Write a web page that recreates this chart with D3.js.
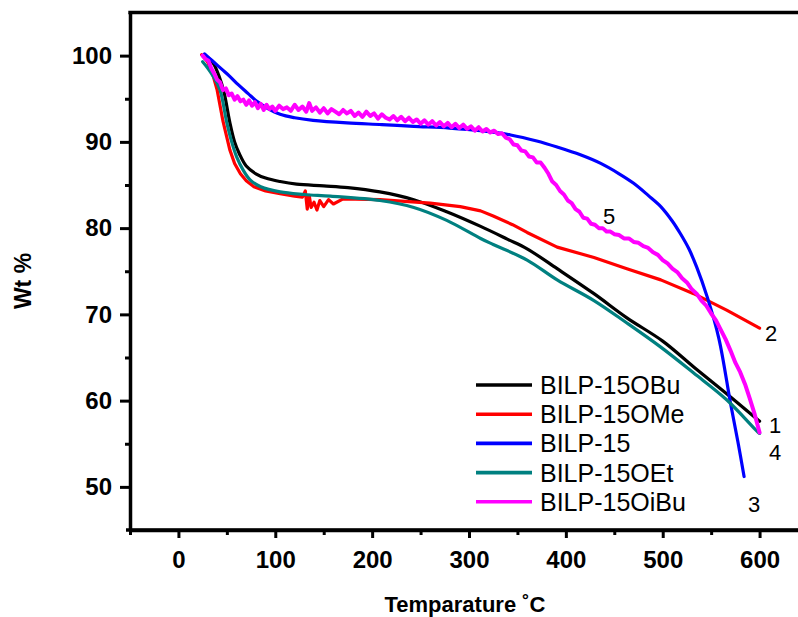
<!DOCTYPE html>
<html>
<head>
<meta charset="utf-8">
<script src="https://cdn.jsdelivr.net/npm/d3@7"></script>
<style>
  html, body { margin: 0; padding: 0; background: #fff; }
  svg { display: block; }
  text { font-family: Arial, "Liberation Sans", sans-serif; }
</style>
</head>
<body>
<svg id="chart" width="798" height="617"></svg>
<script>
// ---- data ----
const seriesNames = ["BILP-15OBu", "BILP-15OMe", "BILP-15", "BILP-15OEt", "BILP-15OiBu"];
const seriesColors = ["#000000", "#ff0000", "#0000ff", "#008080", "#ff00ff"];
const curveLabels = ["1", "2", "3", "4", "5"];

const buT = [25, 30, 36, 42, 47, 53, 58, 63, 70, 80, 90, 105, 122, 150, 175, 208, 243, 277, 312, 340, 360, 391, 429, 463, 500, 532, 566, 600];
const buW = [100, 99.8, 99.1, 97.6, 95.8, 92.3, 90.0, 88.6, 87.2, 86.3, 85.8, 85.4, 85.1, 84.9, 84.7, 84.2, 83.3, 81.9, 80.2, 78.7, 77.6, 75.3, 72.4, 69.6, 66.9, 63.9, 60.8, 57.6];

const meT = [24, 30, 35, 40, 46, 53, 58, 64, 70, 78, 90, 105, 120, 128, 131, 133, 135, 137, 140, 143, 146, 150, 155, 160, 170, 208, 260, 291, 312, 325, 345, 360, 391, 429, 463, 498, 532, 566, 600];
const meW = [100.1, 99.3, 98.0, 96.0, 92.4, 89.1, 87.5, 86.3, 85.5, 84.8, 84.3, 84.0, 83.7, 83.6, 84.3, 82.2, 83.8, 82.4, 83.0, 82.1, 83.2, 82.5, 83.3, 82.8, 83.4, 83.3, 82.9, 82.5, 82.0, 81.4, 80.4, 79.5, 77.8, 76.6, 75.3, 74.0, 72.4, 70.5, 68.4];

const b15T = [27, 35, 45, 53, 62, 72, 81, 92, 105, 120, 139, 174, 210, 243, 280, 312, 343, 370, 391, 415, 436, 455, 470, 485, 498, 510, 518, 527, 535, 546, 558, 570, 578, 584];
const b15W = [100.2, 99.4, 98.4, 97.6, 96.6, 95.6, 94.7, 93.9, 93.2, 92.8, 92.5, 92.2, 92.0, 91.8, 91.6, 91.3, 90.8, 90.1, 89.4, 88.5, 87.5, 86.3, 85.2, 83.8, 82.5, 80.8, 79.4, 77.6, 75.5, 72.0, 67.2, 59.7, 55.0, 51.2];

const etT = [25, 30, 36, 43, 50, 55, 60, 67, 74, 85, 105, 130, 157, 208, 243, 277, 312, 325, 360, 391, 429, 463, 498, 532, 566, 597, 600];
const etW = [99.3, 98.6, 97.6, 96.0, 92.2, 90.0, 88.3, 86.7, 85.6, 84.8, 84.2, 83.9, 83.7, 83.2, 82.4, 80.9, 78.8, 78.1, 76.3, 74.0, 71.6, 69.0, 66.2, 63.2, 60.1, 56.5, 56.2];

const ibT = [25, 28, 31, 34, 37, 40, 43, 46, 49, 52, 55, 58, 61, 64, 67, 70, 73, 76, 79, 82, 85, 88, 91, 94, 97, 100,
  104, 108, 112, 116, 120, 124, 128, 132, 135, 138, 142, 146, 150, 154, 158, 162, 166, 170, 174, 178, 182, 186, 190, 194, 198,
  202, 206, 210, 214, 218, 222, 226, 230, 234, 238, 242, 246, 250, 254, 258, 262, 266, 270, 274, 278, 282, 286, 290, 294, 298,
  302, 306, 310, 314, 318, 322, 326, 330, 334, 338, 342, 346, 350, 354, 358, 362, 366, 370, 374, 378, 382, 386, 390, 394, 398,
  402, 406, 410, 414, 418, 422, 426, 430, 434, 438, 442, 446, 450, 455, 460, 465, 470, 475, 480, 485, 490, 495, 500,
  505, 510, 515, 520, 525, 530, 535, 540, 545, 550, 555, 560, 565, 570, 575, 580, 585, 590, 595, 600];
const ibW = [100.0, 99.6, 99.4, 98.5, 97.9, 97.2, 96.9, 96.0, 96.2, 95.4, 95.6, 94.9, 95.3, 94.7, 94.9, 94.3, 94.8, 94.2, 94.6, 93.9, 94.4, 93.7, 94.3, 93.8, 94.1, 93.6,
  94.2, 93.8, 94.0, 93.6, 94.3, 93.7, 94.1, 93.5, 94.5, 93.6, 94.0, 93.4, 93.9, 93.3, 93.8, 93.5, 93.2, 93.7, 93.3, 93.6, 93.0, 93.4, 92.9, 93.5, 93.0,
  93.3, 92.7, 93.2, 92.8, 92.6, 93.0, 92.5, 92.9, 92.4, 92.8, 92.3, 92.6, 92.1, 92.5, 92.0, 92.4, 91.9, 92.3, 91.8, 92.2, 91.7, 92.1, 91.6, 92.0, 91.5,
  91.8, 91.3, 91.7, 91.2, 91.5, 91.1, 91.3, 90.9, 91.0, 90.5, 90.3, 89.7, 89.6, 89.0, 88.9, 88.3, 88.2, 87.6, 87.6, 87.0, 86.3, 85.4, 85.0, 84.3, 83.9,
  83.2, 82.9, 82.2, 81.9, 81.2, 81.1, 80.5, 80.4, 80.0, 80.0, 79.6, 79.6, 79.3, 79.2, 78.8, 78.8, 78.4, 78.3, 77.9, 77.7, 77.2, 76.9, 76.3,
  75.9, 75.3, 74.9, 74.2, 73.7, 72.9, 72.4, 71.6, 71.0, 70.1, 69.3, 68.2, 67.1, 65.8, 64.4, 63.3, 61.9, 60.2, 58.4, 56.3];

const xMajorTicks = [0, 100, 200, 300, 400, 500, 600];
const xMinorTicks = [-50, 50, 150, 250, 350, 450, 550];
const yMajorTicks = [50, 60, 70, 80, 90, 100];
const yMinorTicks = [55, 65, 75, 85, 95];
const xTitle = "Temparature \u02DAC";
const yTitle = "Wt %";

// ---- build ----
const seriesT = [buT, meT, b15T, etT, ibT];
const seriesW = [buW, meW, b15W, etW, ibW];

const svg = d3.select("#chart");
const x = d3.scaleLinear().domain([-50, 650]).range([130, 808]);
const y = d3.scaleLinear().domain([45, 105]).range([530, 12.5]);

const plot = svg.append("g");

const line = d3.line().x(d => x(d[0])).y(d => y(d[1]));

seriesNames.forEach((name, i) => {
  const pts = seriesT[i].map((t, j) => [t, seriesW[i][j]]);
  const curve = (i === 4 || i === 1) ? d3.curveLinear : d3.curveCatmullRom.alpha(0.5);
  plot.append("path")
    .datum(pts)
    .attr("fill", "none")
    .attr("stroke", seriesColors[i])
    .attr("stroke-width", i === 4 ? 4 : 3.2)
    .attr("stroke-linejoin", "round")
    .attr("stroke-linecap", "round")
    .attr("d", line.curve(curve));
});

// axes
const fontSize = 24;
const xAxis = svg.append("g").attr("transform", `translate(0,${y(45)})`)
  .call(d3.axisBottom(x).tickValues(xMajorTicks).tickSize(8).tickPadding(13).tickSizeOuter(0).tickFormat(d3.format("d")));
const xMinor = svg.append("g").attr("transform", `translate(0,${y(45)})`)
  .call(d3.axisBottom(x).tickValues(xMinorTicks).tickSize(5).tickSizeOuter(0).tickFormat(""));
const yAxis = svg.append("g").attr("transform", `translate(${x(-50)},0)`)
  .call(d3.axisLeft(y).tickValues(yMajorTicks).tickSize(10).tickPadding(8).tickSizeOuter(0).tickFormat(d3.format("d")));
const yMinor = svg.append("g").attr("transform", `translate(${x(-50)},0)`)
  .call(d3.axisLeft(y).tickValues(yMinorTicks).tickSize(5).tickSizeOuter(0).tickFormat(""));

[xAxis, xMinor, yAxis, yMinor].forEach(g => {
  g.select(".domain").attr("stroke", "#000").attr("stroke-width", 3.5);
  g.selectAll(".tick line").attr("stroke", "#000").attr("stroke-width", 3);
  g.selectAll(".tick text")
    .attr("fill", "#000")
    .style("font-family", "Arial, 'Liberation Sans', sans-serif")
    .style("font-size", fontSize + "px")
    .style("font-weight", "bold");
});
xMinor.select(".domain").remove();
yMinor.select(".domain").remove();

// extend x axis line slightly left of the y axis like the reference
svg.append("line")
  .attr("x1", x(-50) - 4).attr("x2", 808)
  .attr("y1", y(45)).attr("y2", y(45))
  .attr("stroke", "#000").attr("stroke-width", 3.5);
// top frame
svg.append("line")
  .attr("x1", x(-50) - 1.7).attr("x2", 808)
  .attr("y1", y(105)).attr("y2", y(105))
  .attr("stroke", "#000").attr("stroke-width", 3.5);

// axis titles
svg.append("text")
  .attr("x", 465).attr("y", 612)
  .attr("text-anchor", "middle")
  .style("font-size", "22px").style("font-weight", "bold")
  .text(xTitle);
svg.append("text")
  .attr("transform", "translate(31,281) rotate(-90)")
  .attr("text-anchor", "middle")
  .style("font-size", "23px").style("font-weight", "bold")
  .text(yTitle);

// legend
const legend = svg.append("g");
const legendY0 = 385, legendDy = 29.2;
seriesNames.forEach((name, i) => {
  const yy = legendY0 + i * legendDy;
  legend.append("line")
    .attr("x1", 476).attr("x2", 532)
    .attr("y1", yy).attr("y2", yy)
    .attr("stroke", seriesColors[i]).attr("stroke-width", 3.6);
  legend.append("text")
    .attr("x", 540).attr("y", yy).attr("dy", "0.36em")
    .style("font-size", "25px")
    .text(name);
});

// curve number labels
const labelPos = [[775, 425], [771, 333], [754, 504], [775, 452], [609, 216]];
curveLabels.forEach((lab, i) => {
  svg.append("text")
    .attr("x", labelPos[i][0]).attr("y", labelPos[i][1]).attr("dy", "0.36em")
    .attr("text-anchor", "middle")
    .style("font-size", "22px")
    .text(lab);
});
</script>
</body>
</html>
